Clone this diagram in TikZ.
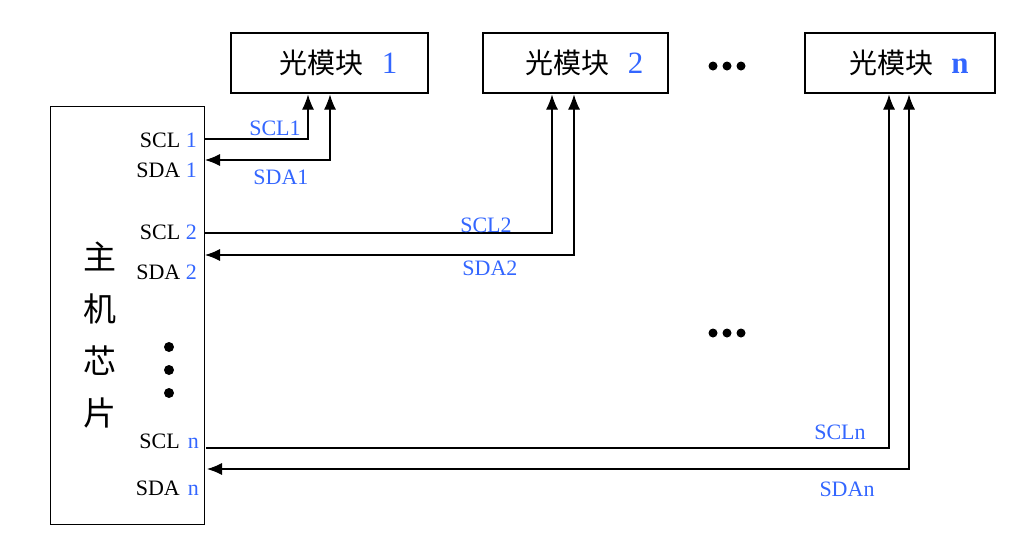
\documentclass[tikz,border=0pt]{standalone}
\usepackage{fontspec}
\setmainfont{Liberation Serif}
\newfontfamily\cjk{Noto Sans CJK SC}
\usetikzlibrary{arrows.meta,positioning}
\definecolor{sigblue}{RGB}{51,102,255}

\tikzset{
  module/.style={draw, line width=1.1pt, minimum height=60pt, inner sep=0pt,
    font=\cjk\fontsize{28}{30}\selectfont},
  pin/.style={anchor=east, inner sep=0pt, font=\fontsize{22}{24}\selectfont},
  sig/.style={sigblue, inner sep=0pt, font=\fontsize{22}{24}\selectfont},
  bus/.style={line width=1.1pt, shorten >=1pt},
  tip/.tip={Latex[length=15pt,width=12pt]},
  dot/.style={circle, fill, inner sep=0pt, minimum size=#1}
}
\newcommand{\modnum}[1]{\hspace{18pt}{\rmfamily\color{sigblue}\fontsize{31}{31}\selectfont #1}}

\begin{document}
\begin{tikzpicture}[x=1pt,y=-1pt]
  \useasboundingbox (0,0) rectangle (1018,550);

  % host chip
  \node[draw, line width=1.1pt, minimum width=154pt, minimum height=418pt] (chip) at (127.5,315.5) {};
  \node[font=\cjk\fontsize{33}{52}\selectfont, align=center] (chipname) at (100,335) {主\\机\\芯\\片};

  % optical modules
  \node[module, minimum width=197pt] (m1) at (329.5,63) {\hspace*{18pt}光模块\modnum{1}};
  \node[module, minimum width=185pt] (m2) at (575.5,63) {\hspace*{18pt}光模块\modnum{2}};
  \node[module, minimum width=190pt] (mn) at (900,63) {\hspace*{18pt}光模块\modnum{\textbf{n}}};

  % pins of the chip
  \node[pin] (p1c) at (197,140) {SCL \textcolor{sigblue}{1}};
  \node[pin] (p1d) at (197,170) {SDA \textcolor{sigblue}{1}};
  \node[pin] (p2c) at (197,232) {SCL \textcolor{sigblue}{2}};
  \node[pin] (p2d) at (197,272) {SDA \textcolor{sigblue}{2}};
  \node[pin] (pnc) at (199,441) {SCL\hspace{8pt}\textcolor{sigblue}{n}};
  \node[pin] (pnd) at (199,488) {SDA\hspace{8pt}\textcolor{sigblue}{n}};

  % line ends at the chip
  \coordinate (c1) at (204,139);
  \coordinate (d1) at (205,160);
  \coordinate (c2) at (204,233);
  \coordinate (d2) at (205,255);
  \coordinate (cn) at (206,448);
  \coordinate (dn) at (207,469);

  % buses
  \draw[bus, -{tip}] (c1) -| ([xshift=-21.5pt]m1.south);
  \draw[bus, {tip}-{tip}] (d1) -| ([xshift=0.5pt]m1.south);
  \draw[bus, -{tip}] (c2) -| ([xshift=-23.5pt]m2.south);
  \draw[bus, {tip}-{tip}] (d2) -| ([xshift=-1.5pt]m2.south);
  \draw[bus, -{tip}] (cn) -| ([xshift=-11pt]mn.south);
  \draw[bus, {tip}-{tip}] (dn) -| ([xshift=9pt]mn.south);

  % signal names
  \node[sig] (l1c) at (275,128) {SCL1};
  \node[sig] (l1d) at (281,177) {SDA1};
  \node[sig] (l2c) at (486,225) {SCL2};
  \node[sig] (l2d) at (490,268) {SDA2};
  \node[sig] (lnc) at (840,432) {SCLn};
  \node[sig] (lnd) at (847,489) {SDAn};

  % ellipses
  \foreach \x in {713,727,741} {
    \node[dot=9pt] at (\x,66) {};
    \node[dot=9pt] at (\x,333) {};
  }
  \foreach \y in {347,370,393}
    \node[dot=10pt] at (169,\y) {};
\end{tikzpicture}
\end{document}
